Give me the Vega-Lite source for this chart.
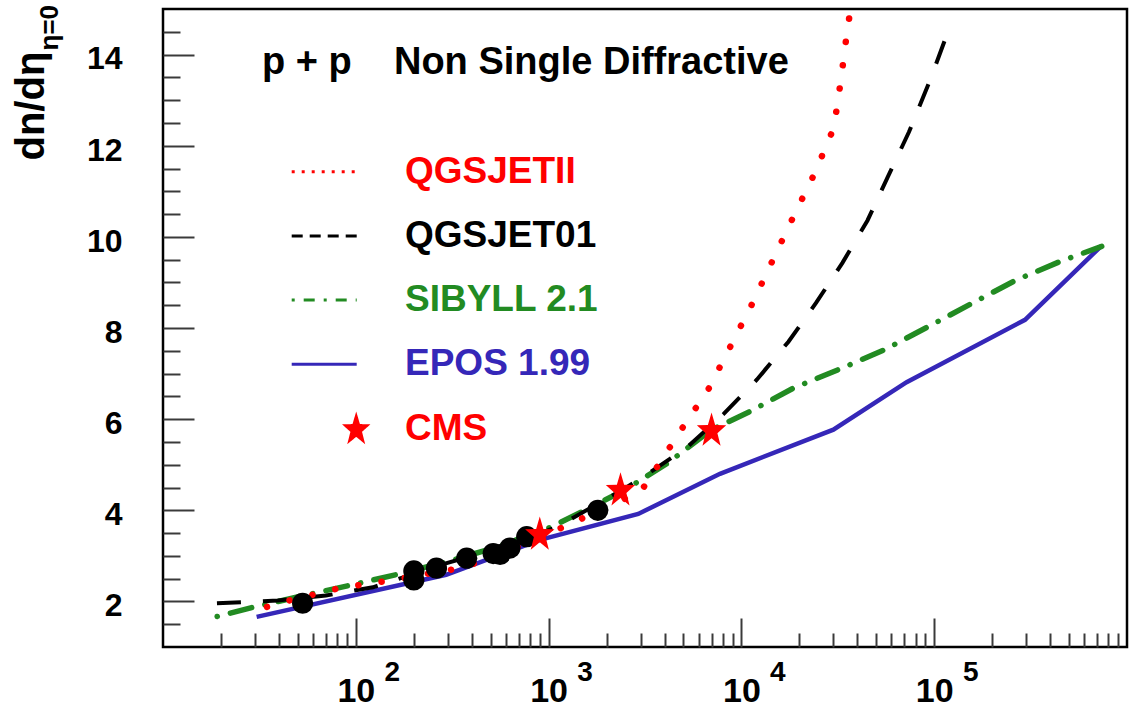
{
  "$schema": "https://vega.github.io/schema/vega-lite/v6.json",
  "width": 964,
  "height": 638,
  "autosize": {"type": "none"},
  "padding": {"left": 163, "top": 9, "right": 7, "bottom": 68},
  "background": "#ffffff",
  "title": {
    "text": "p + p\u00a0\u00a0\u00a0\u00a0Non Single Diffractive",
    "anchor": "start", "frame": "group", "orient": "top",
    "offset": -108, "dx": 99, "baseline": "alphabetic",
    "font": "Liberation Sans", "fontSize": 38, "fontWeight": "bold", "color": "#000000"
  },
  "config": {
    "view": {"stroke": "#000000", "strokeWidth": 2.5},
    "font": "Liberation Sans",
    "axis": {"grid": false, "labelColor": "#000000", "titleColor": "#000000", "tickColor": "#3a3a3a", "tickWidth": 2,
      "labelFont": "Liberation Sans", "titleFont": "Liberation Sans", "labelFontWeight": "bold", "titleFontWeight": "bold",
      "labelFlush": false, "labelOverlap": false, "labelBound": false}
  },
  "datasets": {
    "curves": [
      {"model": "EPOS 1.99", "E": 30.6, "v": 1.66},
      {"model": "EPOS 1.99", "E": 294, "v": 2.585},
      {"model": "EPOS 1.99", "E": 902, "v": 3.35},
      {"model": "EPOS 1.99", "E": 2917, "v": 3.92},
      {"model": "EPOS 1.99", "E": 7745, "v": 4.80},
      {"model": "EPOS 1.99", "E": 29990, "v": 5.77},
      {"model": "EPOS 1.99", "E": 71940, "v": 6.81},
      {"model": "EPOS 1.99", "E": 295800, "v": 8.18},
      {"model": "EPOS 1.99", "E": 739600, "v": 9.81},
      {"model": "SIBYLL 2.1", "E": 19.1, "v": 1.67},
      {"model": "SIBYLL 2.1", "E": 29.2, "v": 1.87},
      {"model": "SIBYLL 2.1", "E": 51.4, "v": 2.11},
      {"model": "SIBYLL 2.1", "E": 92.3, "v": 2.35},
      {"model": "SIBYLL 2.1", "E": 163, "v": 2.59},
      {"model": "SIBYLL 2.1", "E": 290, "v": 2.86},
      {"model": "SIBYLL 2.1", "E": 527, "v": 3.18},
      {"model": "SIBYLL 2.1", "E": 1014, "v": 3.62},
      {"model": "SIBYLL 2.1", "E": 1496, "v": 3.97},
      {"model": "SIBYLL 2.1", "E": 2489, "v": 4.45},
      {"model": "SIBYLL 2.1", "E": 4130, "v": 5.03},
      {"model": "SIBYLL 2.1", "E": 6950, "v": 5.76},
      {"model": "SIBYLL 2.1", "E": 11090, "v": 6.17},
      {"model": "SIBYLL 2.1", "E": 18580, "v": 6.68},
      {"model": "SIBYLL 2.1", "E": 32430, "v": 7.10},
      {"model": "SIBYLL 2.1", "E": 55080, "v": 7.52},
      {"model": "SIBYLL 2.1", "E": 93100, "v": 8.03},
      {"model": "SIBYLL 2.1", "E": 155200, "v": 8.53},
      {"model": "SIBYLL 2.1", "E": 262400, "v": 9.04},
      {"model": "SIBYLL 2.1", "E": 449800, "v": 9.46},
      {"model": "SIBYLL 2.1", "E": 739600, "v": 9.79},
      {"model": "QGSJET01", "E": 19.05, "v": 1.96},
      {"model": "QGSJET01", "E": 39.4, "v": 2.02},
      {"model": "QGSJET01", "E": 70, "v": 2.13},
      {"model": "QGSJET01", "E": 122.7, "v": 2.31},
      {"model": "QGSJET01", "E": 290, "v": 2.83},
      {"model": "QGSJET01", "E": 560, "v": 3.18},
      {"model": "QGSJET01", "E": 1099, "v": 3.63},
      {"model": "QGSJET01", "E": 2377, "v": 4.43},
      {"model": "QGSJET01", "E": 3090, "v": 4.73},
      {"model": "QGSJET01", "E": 5224, "v": 5.38},
      {"model": "QGSJET01", "E": 8072, "v": 6.11},
      {"model": "QGSJET01", "E": 12050, "v": 6.87},
      {"model": "QGSJET01", "E": 17540, "v": 7.70},
      {"model": "QGSJET01", "E": 24380, "v": 8.55},
      {"model": "QGSJET01", "E": 33420, "v": 9.43},
      {"model": "QGSJET01", "E": 45080, "v": 10.36},
      {"model": "QGSJET01", "E": 57540, "v": 11.32},
      {"model": "QGSJET01", "E": 73960, "v": 12.30},
      {"model": "QGSJET01", "E": 95060, "v": 13.43},
      {"model": "QGSJET01", "E": 118300, "v": 14.52},
      {"model": "QGSJETII", "E": 34.6, "v": 1.88},
      {"model": "QGSJETII", "E": 46.1, "v": 2.03},
      {"model": "QGSJETII", "E": 81.8, "v": 2.29},
      {"model": "QGSJETII", "E": 145.2, "v": 2.45},
      {"model": "QGSJETII", "E": 346.7, "v": 2.73},
      {"model": "QGSJETII", "E": 458, "v": 2.90},
      {"model": "QGSJETII", "E": 802, "v": 3.31},
      {"model": "QGSJETII", "E": 1343, "v": 3.73},
      {"model": "QGSJETII", "E": 2301, "v": 4.19},
      {"model": "QGSJETII", "E": 3006, "v": 4.41},
      {"model": "QGSJETII", "E": 3524, "v": 4.85},
      {"model": "QGSJETII", "E": 4842, "v": 5.75},
      {"model": "QGSJETII", "E": 6730, "v": 6.65},
      {"model": "QGSJETII", "E": 8730, "v": 7.58},
      {"model": "QGSJETII", "E": 11400, "v": 8.54},
      {"model": "QGSJETII", "E": 14660, "v": 9.52},
      {"model": "QGSJETII", "E": 18790, "v": 10.48},
      {"model": "QGSJETII", "E": 24150, "v": 11.42},
      {"model": "QGSJETII", "E": 30200, "v": 12.40},
      {"model": "QGSJETII", "E": 32890, "v": 13.47},
      {"model": "QGSJETII", "E": 35400, "v": 14.53},
      {"model": "QGSJETII", "E": 36560, "v": 14.91},
      {"model": "QGSJETII", "E": 37500, "v": 15.4}
    ],
    "points": [
      {"E": 53, "v": 1.96},
      {"E": 200, "v": 2.67},
      {"E": 200, "v": 2.47},
      {"E": 262, "v": 2.73},
      {"E": 376, "v": 2.95},
      {"E": 516, "v": 3.05},
      {"E": 560, "v": 3.03},
      {"E": 630, "v": 3.17},
      {"E": 770, "v": 3.42},
      {"E": 1800, "v": 4.00}
    ],
    "cms": [
      {"model": "CMS", "E": 900, "v": 3.50},
      {"model": "CMS", "E": 2360, "v": 4.47},
      {"model": "CMS", "E": 7000, "v": 5.78}
    ]
  },
  "layer": [
    {
      "data": {"name": "curves"},
      "transform": [{"filter": "datum.model === 'EPOS 1.99'"}],
      "mark": {"type": "line", "strokeWidth": 4.5, "clip": true},
      "encoding": {
        "x": {"field": "E", "type": "quantitative",
          "scale": {"type": "log", "domain": [10, 1000000], "nice": false},
          "axis": {"orient": "bottom", "values": [100, 1000, 10000, 100000], "labelExpr": "'10'", "ticks": false, "domain": false,
            "labelFontSize": 34, "labelBaseline": "alphabetic", "labelAlign": "center", "labelPadding": 54.7, "title": null}},
        "y": {"field": "v", "type": "quantitative",
          "scale": {"domain": [1, 15], "nice": false, "zero": false},
          "axis": {"orient": "left", "values": [2, 4, 6, 8, 10, 12, 14], "ticks": false, "domain": false,
            "labelFontSize": 32, "labelAlign": "right", "labelBaseline": "alphabetic", "labelOffset": 14.3, "labelPadding": 41,
            "title": "dn/dη", "titleFontSize": 40, "titleAngle": 270, "titleAlign": "left", "titleBaseline": "alphabetic",
            "titleX": -120, "titleY": 151}},
        "color": {"field": "model", "type": "nominal",
          "scale": {"domain": ["QGSJETII", "QGSJET01", "SIBYLL 2.1", "EPOS 1.99", "CMS"],
                    "range": ["#ff0000", "#000000", "#228b22", "#3527b8", "#ff0000"]},
          "legend": {
            "orient": "none", "legendX": 127.2, "legendY": 128.7, "direction": "vertical", "columns": 1,
            "title": null, "padding": 0, "offset": 0,
            "symbolType": "stroke", "symbolSize": 4225, "symbolStrokeWidth": 3, "symbolOffset": 0,
            "labelFont": "Liberation Sans", "labelFontSize": 37, "labelFontWeight": "bold", "labelOffset": 46.8,
            "labelLimit": 500, "labelBaseline": "middle", "rowPadding": 12.2,
            "encode": {
              "symbols": {"update": {
                "shape": {"signal": "datum.value === 'CMS' ? 'M0.985,-0.36L1.064,-0.091L1.304,-0.085L1.112,0.087L1.182,0.36L0.985,0.197L0.788,0.36L0.858,0.087L0.666,-0.085L0.906,-0.091Z' : 'stroke'"},
                "fill": {"signal": "datum.value === 'CMS' ? '#ff0000' : 'transparent'"},
                "stroke": {"signal": "datum.value === 'QGSJETII' ? '#ff0000' : datum.value === 'QGSJET01' ? '#000000' : datum.value === 'SIBYLL 2.1' ? '#228b22' : datum.value === 'EPOS 1.99' ? '#3527b8' : 'transparent'"},
                "strokeDash": {"signal": "datum.value === 'QGSJETII' ? [3, 7] : datum.value === 'QGSJET01' ? [11, 7] : datum.value === 'SIBYLL 2.1' ? [3, 9, 11, 9] : [1, 0]"},
                "opacity": {"value": 1}
              }},
              "labels": {"update": {
                "fill": {"signal": "datum.value === 'QGSJET01' ? '#000000' : datum.value === 'SIBYLL 2.1' ? '#228b22' : datum.value === 'EPOS 1.99' ? '#3527b8' : '#ff0000'"}
              }}
            }
          }}
      }
    },
    {
      "data": {"name": "curves"},
      "transform": [{"filter": "datum.model === 'SIBYLL 2.1'"}],
      "mark": {"type": "line", "strokeWidth": 5.5, "strokeDash": [0.1, 13.5, 22, 13.5], "strokeCap": "round", "clip": true},
      "encoding": {
        "x": {"field": "E", "type": "quantitative",
          "axis": {"orient": "bottom", "values": [100, 1000, 10000, 100000], "labelExpr": "'' + round(log(datum.value) / LN10)",
            "ticks": false, "domain": false, "labelFontSize": 28, "labelBaseline": "alphabetic", "labelAlign": "center",
            "labelPadding": 33, "labelOffset": 36, "title": null}},
        "y": {"field": "v", "type": "quantitative",
          "axis": {"orient": "left", "values": [2, 4, 6, 8, 10, 12, 14], "tickSize": -31, "labels": false, "domain": false,
            "title": "η=0", "titleFontSize": 26, "titleAngle": 270, "titleAlign": "left", "titleBaseline": "alphabetic",
            "titleX": -106, "titleY": 41}},
        "color": {"field": "model", "type": "nominal"}
      }
    },
    {
      "data": {"name": "curves"},
      "transform": [{"filter": "datum.model === 'QGSJET01'"}],
      "mark": {"type": "line", "strokeWidth": 4, "strokeDash": [24, 22], "clip": true},
      "encoding": {
        "x": {"field": "E", "type": "quantitative",
          "axis": {"orient": "bottom", "values": [100, 1000, 10000, 100000], "tickSize": -29, "labels": false, "domain": false, "title": null}},
        "y": {"field": "v", "type": "quantitative",
          "axis": {"orient": "left", "values": [1.5, 2.5, 3, 3.5, 4.5, 5, 5.5, 6.5, 7, 7.5, 8.5, 9, 9.5, 10.5, 11, 11.5, 12.5, 13, 13.5, 14.5],
            "tickSize": -17, "labels": false, "domain": false, "title": null}},
        "color": {"field": "model", "type": "nominal"}
      }
    },
    {
      "data": {"name": "curves"},
      "transform": [{"filter": "datum.model === 'QGSJETII'"}],
      "mark": {"type": "line", "strokeWidth": 6.5, "strokeDash": [0.1, 23.4], "strokeCap": "round", "clip": true},
      "encoding": {
        "x": {"field": "E", "type": "quantitative",
          "axis": {"orient": "bottom",
            "values": [20, 30, 40, 50, 60, 70, 80, 90, 200, 300, 400, 500, 600, 700, 800, 900, 2000, 3000, 4000, 5000, 6000, 7000, 8000, 9000, 20000, 30000, 40000, 50000, 60000, 70000, 80000, 90000, 200000, 300000, 400000, 500000, 600000, 700000, 800000, 900000],
            "tickSize": -14, "labels": false, "domain": false, "title": null}},
        "y": {"field": "v", "type": "quantitative", "axis": null},
        "color": {"field": "model", "type": "nominal"}
      }
    },
    {
      "data": {"name": "points"},
      "mark": {"type": "point", "shape": "circle", "filled": true, "size": 450, "color": "#000000", "opacity": 1},
      "encoding": {
        "x": {"field": "E", "type": "quantitative", "axis": null},
        "y": {"field": "v", "type": "quantitative", "axis": null}
      }
    },
    {
      "data": {"name": "cms"},
      "mark": {"type": "point", "shape": "M0,-1L0.219,-0.253L0.885,-0.236L0.354,0.243L0.547,1L0,0.548L-0.547,1L-0.354,0.243L-0.885,-0.236L-0.219,-0.253Z", "filled": true, "size": 1100, "opacity": 1, "strokeWidth": 0},
      "encoding": {
        "x": {"field": "E", "type": "quantitative", "axis": null},
        "y": {"field": "v", "type": "quantitative", "axis": null},
        "color": {"field": "model", "type": "nominal"}
      }
    }
  ],
  "resolve": {"axis": {"x": "independent", "y": "independent"}}
}
